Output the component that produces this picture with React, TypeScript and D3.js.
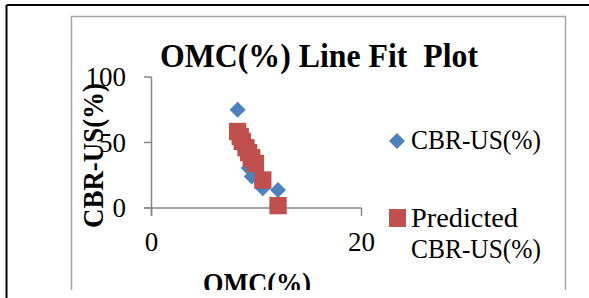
import React from "react";
import * as d3 from "d3";

const omc = [8.2, 8.45, 8.65, 9.0, 9.25, 9.55, 9.5, 9.9, 10.6, 12.05];
const cbrObserved = [75, 52, 49, 44, 30.6, 24, 39, 33, 15, 13.8];
const cbrPredicted = [58.4, 54.6, 50.8, 46, 42.3, 38, 38.5, 34, 21.4, 1.8];
const xTicks = [0, 20];
const yTicks = [0, 50, 100];
const seriesNames = ["CBR-US(%)", "Predicted", "CBR-US(%)"];

const BLUE = "#4F81BD";
const RED = "#C0504D";
const AXIS = "#868686";
const FONT = "'Liberation Serif', 'Times New Roman', serif";

export default function App() {
  const W = 589;
  const H = 298;
  const x = d3.scaleLinear().domain([0, 20]).range([151.5, 361.5]);
  const y = d3.scaleLinear().domain([0, 100]).range([208, 77]);
  const diamond = d3.symbol().type(d3.symbolSquare).size(128)() as string;
  const square = d3.symbol().type(d3.symbolSquare).size(300)() as string;

  return (
    <svg
      width={W}
      height={H}
      style={{ position: "absolute", left: 0, top: 0, background: "#fff" }}
    >
      <defs>
        <clipPath id="clipChart">
          <rect x={0} y={0} width={W} height={290} />
        </clipPath>
      </defs>
      <rect x={0} y={0} width={W} height={H} fill="#fff" />
      <line x1={6.5} y1={5} x2={W} y2={5} stroke="#000" strokeWidth={2} />
      <line x1={6.5} y1={5} x2={6.5} y2={H} stroke="#000" strokeWidth={2} />

      <g clipPath="url(#clipChart)">
        <rect
          x={71.5}
          y={16.5}
          width={494}
          height={300}
          fill="#fff"
          stroke="#A6A6A6"
          strokeWidth={1.5}
        />
        <text
          x={319}
          y={67}
          textAnchor="middle"
          fontFamily={FONT}
          fontWeight="bold"
          fontSize={33}
          textLength={318}
          lengthAdjust="spacingAndGlyphs"
          style={{ whiteSpace: "pre" }}
        >
          {"OMC(%) Line Fit\u00a0 Plot"}
        </text>

        <line x1={x(0)} y1={y(100)} x2={x(0)} y2={216} stroke={AXIS} strokeWidth={1.5} />
        <line x1={144} y1={y(0)} x2={x(20)} y2={y(0)} stroke={AXIS} strokeWidth={1.5} />
        {yTicks.map((t) => (
          <line key={"yt" + t} x1={144} y1={y(t)} x2={x(0)} y2={y(t)} stroke={AXIS} strokeWidth={1.5} />
        ))}
        {xTicks.map((t) => (
          <line key={"xt" + t} x1={x(t)} y1={y(0)} x2={x(t)} y2={216} stroke={AXIS} strokeWidth={1.5} />
        ))}
        {yTicks.map((t) => (
          <text
            key={"yl" + t}
            x={126}
            y={y(t)}
            dy="0.35em"
            textAnchor="end"
            fontFamily={FONT}
            fontSize={27}
          >
            {t}
          </text>
        ))}
        {xTicks.map((t) => (
          <text
            key={"xl" + t}
            x={x(t)}
            y={251}
            textAnchor="middle"
            fontFamily={FONT}
            fontSize={27}
          >
            {t}
          </text>
        ))}

        <text
          transform={`translate(103,155.5) rotate(-90)`}
          textAnchor="middle"
          fontFamily={FONT}
          fontWeight="bold"
          fontSize={29}
          textLength={145}
          lengthAdjust="spacingAndGlyphs"
        >
          CBR-US(%)
        </text>
        <text
          x={257}
          y={293}
          textAnchor="middle"
          fontFamily={FONT}
          fontWeight="bold"
          fontSize={29}
          textLength={108}
          lengthAdjust="spacingAndGlyphs"
        >
          OMC(%)
        </text>

        {omc.map((v, i) => (
          <path
            key={"o" + i}
            d={diamond}
            transform={`translate(${x(v)},${y(cbrObserved[i])}) rotate(45)`}
            fill={BLUE}
          />
        ))}
        {omc.map((v, i) => (
          <path
            key={"p" + i}
            d={square}
            transform={`translate(${x(v)},${y(cbrPredicted[i])})`}
            fill={RED}
          />
        ))}

        <path d={diamond} transform="translate(397,141) rotate(45)" fill={BLUE} />
        <text
          x={411}
          y={149}
          fontFamily={FONT}
          fontSize={28}
          textLength={130}
          lengthAdjust="spacingAndGlyphs"
        >
          {seriesNames[0]}
        </text>
        <rect x={389} y={209} width={17} height={18} fill={RED} />
        <text
          x={411}
          y={227}
          fontFamily={FONT}
          fontSize={28}
          textLength={107}
          lengthAdjust="spacingAndGlyphs"
        >
          {seriesNames[1]}
        </text>
        <text
          x={411}
          y={258}
          fontFamily={FONT}
          fontSize={28}
          textLength={130}
          lengthAdjust="spacingAndGlyphs"
        >
          {seriesNames[2]}
        </text>
      </g>
    </svg>
  );
}
